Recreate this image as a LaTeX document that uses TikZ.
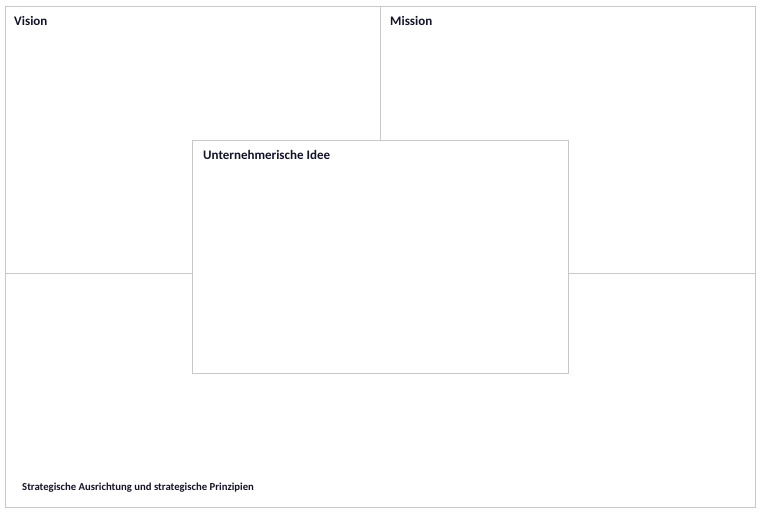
\documentclass[tikz,border=0pt]{standalone}
\usepackage{fontspec}
\setmainfont{Carlito}
\definecolor{frame}{RGB}{200,200,200}
\definecolor{ink}{RGB}{20,20,40}

\begin{document}
\begin{tikzpicture}
[
    x=1pt, y=-1pt,
    panel/.style={draw=frame, line width=0.8pt},
    title/.style={anchor=base west, inner sep=0pt, text=ink, font=\bfseries\fontsize{13}{15}\selectfont},
    small title/.style={title, font=\bfseries\fontsize{10.7}{12}\selectfont},
]
\useasboundingbox (0,0) rectangle (762,515);
\draw [panel] (5,6) rectangle (755,507);
\coordinate (top) at (380,6);
\coordinate (left) at (5,273);
\coordinate (right) at (755,273);
\node [panel, fill=white, minimum width=376pt, minimum height=233pt, inner sep=0pt, anchor=north west] (idea) at (192,140) {};
\draw [panel] (top) -- (top |- idea.north);
\draw [panel] (left) -- (left -| idea.west);
\draw [panel] (idea.east |- right) -- (right);
\node [title] (vision) at (14,25) {Vision};
\node [title] (mission) at (390,25) {Mission};
\node [title] (idea title) at (203,159) {Unternehmerische Idee};
\node [small title] (strategy) at (22,490) {Strategische Ausrichtung und strategische Prinzipien};
\end{tikzpicture}
\end{document}
